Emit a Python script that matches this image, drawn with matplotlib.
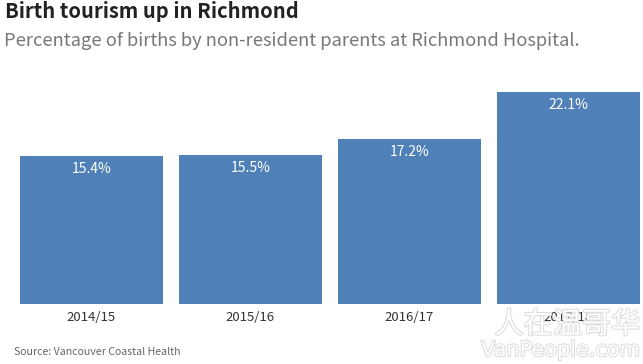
import matplotlib
matplotlib.use('Agg')
import matplotlib.pyplot as plt
import matplotlib.patheffects as pe

years = ['2014/15', '2015/16', '2016/17', '2017/18']
shares = [15.4, 15.5, 17.2, 22.1]
labels = ['15.4%', '15.5%', '17.2%', '22.1%']

plt.rcParams['font.family'] = ['Noto Sans CJK SC', 'DejaVu Sans']

W, H = 643, 364
fig = plt.figure(figsize=(W/100, H/100), dpi=100)
ax = fig.add_axes([0, (H-304)/H, 1, 234/H])

pitch = 159.0
first = 91.5
ax.bar(range(4), shares, width=143/pitch, color='#4f81b8')
ax.set_xlim(-first/pitch, (W-first)/pitch)
ax.set_ylim(0, 234/9.59)
for s in ax.spines.values():
    s.set_visible(False)
ax.set_yticks([])
ax.set_xticks(range(4))
ax.set_xticklabels(years, fontsize=9.5, color='#333333')
ax.tick_params(axis='x', length=0, pad=5)

for i in range(4):
    ax.annotate(labels[i], (i, shares[i]), xytext=(0, -4), textcoords='offset points',
                ha='center', va='top', color='white', fontsize=10)

fig.text(5/W, 1-11/H, 'Birth tourism up in Richmond', fontsize=14.5, fontweight='bold',
         color='#222222', va='center', ha='left')
fig.text(4/W, 1-41/H, 'Percentage of births by non-resident parents at Richmond Hospital.',
         fontsize=13.2, color='#777777', va='center', ha='left')
fig.text(14/W, 1-352/H, 'Source: Vancouver Coastal Health', fontsize=7.6,
         color='#666666', va='center', ha='left')

# watermark
shadow = [pe.withStroke(linewidth=1.5, foreground='#dddddd')]
fig.text(640/W, 1-325/H, '人在温哥华', fontsize=21, color='white', va='center', ha='right',
         path_effects=shadow)
fig.text(640/W, 1-350/H, 'VanPeople.com', fontsize=15, color='white', va='center', ha='right',
         path_effects=shadow, family='DejaVu Sans')

fig.savefig('out.png', dpi=100)
